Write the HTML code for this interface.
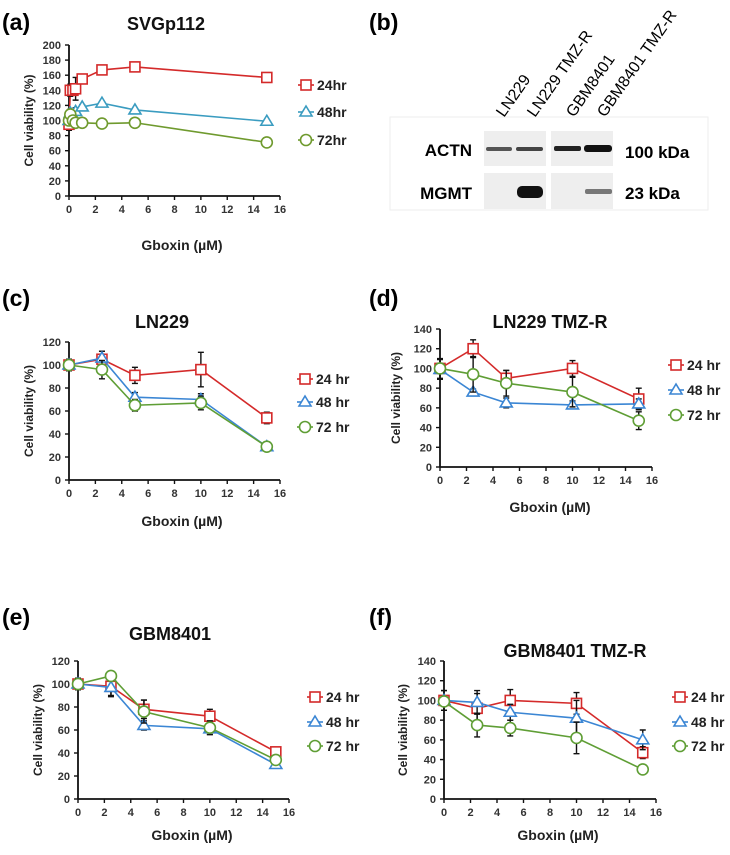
<!DOCTYPE html>
<html><head><meta charset="utf-8">
<style>
html,body{margin:0;padding:0;background:#fff;}
svg{display:block;font-family:"Liberation Sans",Arial,sans-serif;}
</style></head>
<body>
<svg id="fig" width="730" height="855" viewBox="0 0 730 855" xmlns="http://www.w3.org/2000/svg">
  <!-- panel labels -->
  <text x="2" y="30" font-size="23" font-weight="bold">(a)</text>
  <text x="369" y="30" font-size="23" font-weight="bold">(b)</text>
  <text x="2" y="306" font-size="23" font-weight="bold">(c)</text>
  <text x="369" y="306" font-size="23" font-weight="bold">(d)</text>
  <text x="2" y="625" font-size="23" font-weight="bold">(e)</text>
  <text x="369" y="625" font-size="23" font-weight="bold">(f)</text>

  <!-- western blot panel b -->
  <g>
    <rect x="390" y="117" width="318" height="93" fill="none" stroke="#eee" stroke-width="1"/>
    <rect x="484" y="131" width="62" height="35" fill="#eeeeee"/>
    <rect x="551" y="131" width="62" height="35" fill="#eeeeee"/>
    <rect x="484" y="173" width="62" height="36" fill="#eeeeee"/>
    <rect x="551" y="173" width="62" height="36" fill="#eeeeee"/>
    <rect x="486" y="147" width="26" height="4" fill="#555" rx="2"/>
    <rect x="516" y="147" width="27" height="4" fill="#444" rx="2"/>
    <rect x="554" y="146" width="27" height="5" fill="#222" rx="2"/>
    <rect x="584" y="145" width="28" height="7" fill="#111" rx="3"/>
    <rect x="517" y="186" width="26" height="12" fill="#111" rx="5"/>
    <rect x="585" y="189" width="27" height="5" fill="#777" rx="2"/>
    <text x="472" y="156" font-size="17" font-weight="bold" text-anchor="end">ACTN</text>
    <text x="472" y="199" font-size="17" font-weight="bold" text-anchor="end">MGMT</text>
    <text x="625" y="158" font-size="17" font-weight="bold">100 kDa</text>
    <text x="625" y="199" font-size="17" font-weight="bold">23 kDa</text>
    <text transform="translate(504,118) rotate(-55)" font-size="16">LN229</text>
    <text transform="translate(535,118) rotate(-55)" font-size="16">LN229 TMZ-R</text>
    <text transform="translate(574,118) rotate(-55)" font-size="16">GBM8401</text>
    <text transform="translate(605,118) rotate(-55)" font-size="16">GBM8401 TMZ-R</text>
  </g>
</svg>
<script>
// ---- data ----
const doseA = [0, 0.1, 0.3, 0.5, 1, 2.5, 5, 15];
const a24 = [95, 140, 140, 142, 155, 167, 171, 157];
const a24err = [8, 8, 6, 15, 3, 2, 2, 2];
const a48 = [100, 110, 105, 112, 118, 123, 114, 99];
const a48err = [5, 5, 4, 5, 3, 2, 2, 2];
const a72 = [100, 108, 100, 97, 97, 96, 97, 71];
const a72err = [6, 4, 4, 3, 2, 2, 2, 2];

const dose = [0, 2.5, 5, 10, 15];
const c24 = [100, 105, 91, 96, 54];
const c24err = [5, 7, 7, 15, 5];
const c48 = [100, 106, 72, 70, 29];
const c48err = [3, 6, 4, 5, 2];
const c72 = [100, 96, 65, 67, 29];
const c72err = [3, 8, 5, 6, 2];

const d24 = [100, 120, 90, 100, 69];
const d24err = [10, 9, 8, 8, 11];
const d48 = [99, 76, 65, 63, 64];
const d48err = [10, 3, 5, 4, 5];
const d72 = [100, 94, 85, 76, 47];
const d72err = [5, 18, 13, 15, 9];

const e24 = [100, 98, 78, 72, 41];
const e24err = [5, 8, 8, 6, 3];
const e48 = [100, 97, 64, 61, 30];
const e48err = [5, 8, 4, 5, 2];
const e72 = [100, 107, 76, 62, 34];
const e72err = [4, 4, 10, 6, 3];

const f24 = [100, 92, 100, 97, 47];
const f24err = [10, 15, 11, 11, 6];
const f48 = [100, 98, 88, 82, 60];
const f48err = [10, 12, 8, 18, 10];
const f72 = [99, 75, 72, 62, 30];
const f72err = [3, 12, 8, 16, 2];

const xTicks = [0, 2, 4, 6, 8, 10, 12, 14, 16];
const legendA = ["24hr", "48hr", "72hr"];
const legendB = ["24 hr", "48 hr", "72 hr"];

const NS = "http://www.w3.org/2000/svg";
const svg = document.getElementById("fig");
function mk(tag, attrs, parent) {
  const e = document.createElementNS(NS, tag);
  for (const k in attrs) e.setAttribute(k, attrs[k]);
  (parent || svg).appendChild(e);
  return e;
}

function marker(g, kind, cx, cy, color) {
  let m;
  if (kind === "sq") m = mk("rect", {x: cx - 5, y: cy - 5, width: 10, height: 10, fill: "#fff", stroke: color, "stroke-width": 1.6}, g);
  else if (kind === "tri") m = mk("path", {d: `M${cx},${cy - 6} L${cx + 6},${cy + 4} L${cx - 6},${cy + 4} Z`, fill: "#fff", stroke: color, "stroke-width": 1.6}, g);
  else m = mk("circle", {cx: cx, cy: cy, r: 5.5, fill: "#fff", stroke: color, "stroke-width": 1.6}, g);
  return m;
}

function panel(cfg) {
  const g = mk("g", {});
  
  
  const X = v => cfg.x0 + (v / 16) * (cfg.x1 - cfg.x0);
  const Y = v => cfg.y0 - (v / cfg.ymax) * (cfg.y0 - cfg.y1);
  // title
  const t = mk("text", {x: cfg.tx, y: cfg.ty, "font-size": 18, "font-weight": "bold", "text-anchor": "middle", fill: "#111"}, g);
  t.textContent = cfg.title;
  
  
  // axes
  const ax = mk("g", {}, g);
  
  
  mk("line", {x1: cfg.x0, y1: cfg.y0, x2: cfg.x1, y2: cfg.y0, stroke: "#111", "stroke-width": 1.8}, ax);
  mk("line", {x1: cfg.x0, y1: cfg.y0, x2: cfg.x0, y2: cfg.y1, stroke: "#111", "stroke-width": 1.8}, ax);
  xTicks.forEach(v => {
    mk("line", {x1: X(v), y1: cfg.y0, x2: X(v), y2: cfg.y0 + 4, stroke: "#111", "stroke-width": 1.4}, ax);
    const tl = mk("text", {x: X(v), y: cfg.y0 + 17, "font-size": 11, "font-weight": "bold", "text-anchor": "middle", fill: "#333"}, ax);
    tl.textContent = v;
    
    
  });
  for (let v = 0; v <= cfg.ymax; v += 20) {
    mk("line", {x1: cfg.x0 - 4, y1: Y(v), x2: cfg.x0, y2: Y(v), stroke: "#111", "stroke-width": 1.4}, ax);
    const tl = mk("text", {x: cfg.x0 - 8, y: Y(v) + 4, "font-size": 11, "font-weight": "bold", "text-anchor": "end", fill: "#333"}, ax);
    tl.textContent = v;
    
    
  }
  const xl = mk("text", {x: cfg.xlx, y: cfg.xly, "font-size": 14, "font-weight": "bold", "text-anchor": "middle", fill: "#222"}, g);
  xl.textContent = "Gboxin (\u00b5M)";
  
  
  const yl = mk("text", {transform: `translate(${cfg.ylx},${(cfg.y0 + cfg.y1) / 2}) rotate(-90)`, "font-size": 12, "font-weight": "bold", "text-anchor": "middle", fill: "#222"}, g);
  yl.textContent = "Cell viability (%)";
  
  
  // series
  const kinds = ["sq", "tri", "circ"];
  const names = ["series-24hr", "series-48hr", "series-72hr"];
  cfg.series.forEach((s, i) => {
    const sg = mk("g", {}, g);
    
    
    const pts = s.vals.map((v, j) => X(cfg.xs[j]) + "," + Y(v)).join(" ");
    mk("polyline", {points: pts, fill: "none", stroke: cfg.colors[i], "stroke-width": 1.6}, sg);
    s.vals.forEach((v, j) => {
      const cx = X(cfg.xs[j]);
      const eb = mk("path", {d: `M${cx},${Y(v - s.err[j])} V${Y(v + s.err[j])} M${cx - 3},${Y(v - s.err[j])} h6 M${cx - 3},${Y(v + s.err[j])} h6`, stroke: "#111", "stroke-width": 1.4, fill: "none"}, sg);
      
      
    });
    s.vals.forEach((v, j) => {
      const m = marker(sg, kinds[i], X(cfg.xs[j]), Y(v), cfg.colors[i]);
      
      
    });
    // legend
    const lg = mk("g", {}, g);
    
    
    const ly = cfg.ly[i];
    mk("line", {x1: cfg.lx, y1: ly, x2: cfg.lx + 16, y2: ly, stroke: cfg.colors[i], "stroke-width": 1.6}, lg);
    marker(lg, kinds[i], cfg.lx + 8, ly, cfg.colors[i]);
    const lt = mk("text", {x: cfg.lx + 19, y: ly + 5, "font-size": 14, "font-weight": "bold", fill: "#222"}, lg);
    lt.textContent = cfg.legend[i];
  });
}

panel({name: "chart-svgp112", title: "SVGp112", tx: 166, ty: 30, x0: 69, x1: 280, y0: 196, y1: 45, ymax: 200,
  xlx: 182, xly: 250, ylx: 33, xs: doseA, colors: ["#d42a2a", "#3a9cc0", "#6f9a2e"],
  series: [{vals: a24, err: a24err}, {vals: a48, err: a48err}, {vals: a72, err: a72err}],
  lx: 298, ly: [85, 112, 140], legend: legendA});
panel({name: "chart-ln229", title: "LN229", tx: 162, ty: 328, x0: 69, x1: 280, y0: 480, y1: 342, ymax: 120,
  xlx: 182, xly: 526, ylx: 33, xs: dose, colors: ["#d42a2a", "#3b86d4", "#5f9e35"],
  series: [{vals: c24, err: c24err}, {vals: c48, err: c48err}, {vals: c72, err: c72err}],
  lx: 297, ly: [379, 402, 427], legend: legendB});
panel({name: "chart-ln229-tmzr", title: "LN229 TMZ-R", tx: 550, ty: 328, x0: 440, x1: 652, y0: 467, y1: 329, ymax: 140,
  xlx: 550, xly: 512, ylx: 400, xs: dose, colors: ["#d42a2a", "#3b86d4", "#5f9e35"],
  series: [{vals: d24, err: d24err}, {vals: d48, err: d48err}, {vals: d72, err: d72err}],
  lx: 668, ly: [365, 390, 415], legend: legendB});
panel({name: "chart-gbm8401", title: "GBM8401", tx: 170, ty: 640, x0: 78, x1: 289, y0: 799, y1: 661, ymax: 120,
  xlx: 192, xly: 840, ylx: 42, xs: dose, colors: ["#d42a2a", "#3b86d4", "#5f9e35"],
  series: [{vals: e24, err: e24err}, {vals: e48, err: e48err}, {vals: e72, err: e72err}],
  lx: 307, ly: [697, 722, 746], legend: legendB});
panel({name: "chart-gbm8401-tmzr", title: "GBM8401 TMZ-R", tx: 575, ty: 657, x0: 444, x1: 656, y0: 799, y1: 661, ymax: 140,
  xlx: 558, xly: 840, ylx: 407, xs: dose, colors: ["#d42a2a", "#3b86d4", "#5f9e35"],
  series: [{vals: f24, err: f24err}, {vals: f48, err: f48err}, {vals: f72, err: f72err}],
  lx: 672, ly: [697, 722, 746], legend: legendB});
</script>
</body></html>
